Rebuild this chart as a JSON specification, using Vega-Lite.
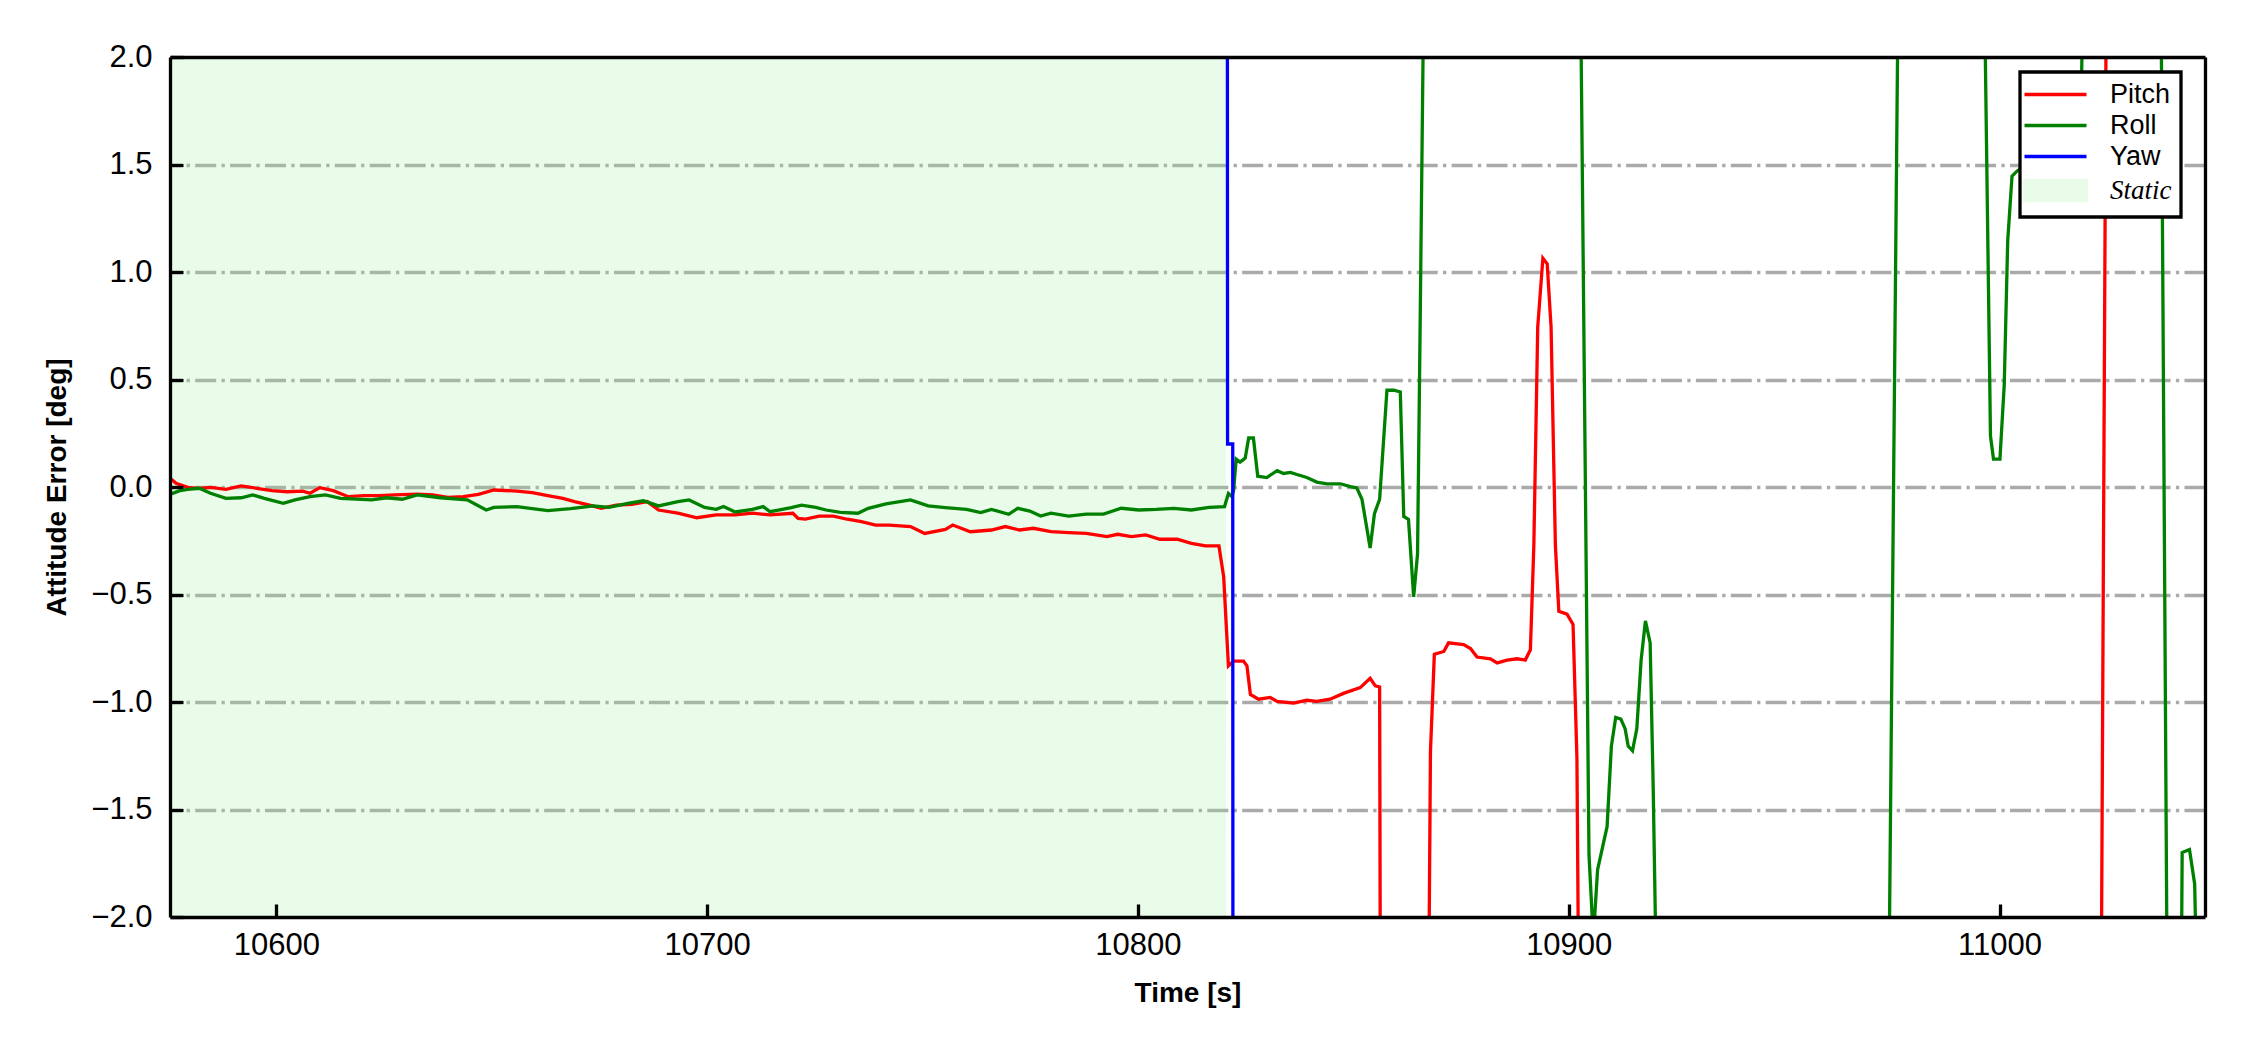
{
  "$schema": "https://vega.github.io/schema/vega-lite/v6.json",
  "width": 2035,
  "height": 860,
  "autosize": {"type": "none"},
  "padding": {"left": 170, "top": 57, "right": 45, "bottom": 133},
  "background": "white",
  "config": {"font": "Liberation Sans", "view": {"stroke": null}},
  "datasets": {
    "spans": [{"start": 10575.3, "end": 10820.5, "s": "Static"}],
    "lines": [
      {"s": "Pitch", "t": 10575.4, "v": 0.040},
      {"s": "Pitch", "t": 10576.7, "v": 0.017},
      {"s": "Pitch", "t": 10579.4, "v": -0.002},
      {"s": "Pitch", "t": 10582.1, "v": -0.006},
      {"s": "Pitch", "t": 10584.7, "v": -0.002},
      {"s": "Pitch", "t": 10588.3, "v": -0.011},
      {"s": "Pitch", "t": 10591.8, "v": 0.005},
      {"s": "Pitch", "t": 10595.4, "v": -0.006},
      {"s": "Pitch", "t": 10599.0, "v": -0.017},
      {"s": "Pitch", "t": 10602.5, "v": -0.022},
      {"s": "Pitch", "t": 10606.1, "v": -0.019},
      {"s": "Pitch", "t": 10607.8, "v": -0.029},
      {"s": "Pitch", "t": 10610.1, "v": -0.003},
      {"s": "Pitch", "t": 10613.2, "v": -0.017},
      {"s": "Pitch", "t": 10616.7, "v": -0.045},
      {"s": "Pitch", "t": 10620.3, "v": -0.040},
      {"s": "Pitch", "t": 10623.8, "v": -0.040},
      {"s": "Pitch", "t": 10627.4, "v": -0.037},
      {"s": "Pitch", "t": 10632.7, "v": -0.033},
      {"s": "Pitch", "t": 10636.3, "v": -0.037},
      {"s": "Pitch", "t": 10639.8, "v": -0.048},
      {"s": "Pitch", "t": 10643.4, "v": -0.045},
      {"s": "Pitch", "t": 10646.9, "v": -0.034},
      {"s": "Pitch", "t": 10650.5, "v": -0.014},
      {"s": "Pitch", "t": 10655.8, "v": -0.019},
      {"s": "Pitch", "t": 10659.4, "v": -0.026},
      {"s": "Pitch", "t": 10663.0, "v": -0.040},
      {"s": "Pitch", "t": 10666.5, "v": -0.053},
      {"s": "Pitch", "t": 10669.2, "v": -0.068},
      {"s": "Pitch", "t": 10672.7, "v": -0.084},
      {"s": "Pitch", "t": 10675.4, "v": -0.099},
      {"s": "Pitch", "t": 10678.9, "v": -0.084},
      {"s": "Pitch", "t": 10682.5, "v": -0.081},
      {"s": "Pitch", "t": 10686.1, "v": -0.068},
      {"s": "Pitch", "t": 10688.7, "v": -0.107},
      {"s": "Pitch", "t": 10693.2, "v": -0.122},
      {"s": "Pitch", "t": 10697.6, "v": -0.143},
      {"s": "Pitch", "t": 10702.1, "v": -0.130},
      {"s": "Pitch", "t": 10706.5, "v": -0.130},
      {"s": "Pitch", "t": 10710.5, "v": -0.122},
      {"s": "Pitch", "t": 10714.6, "v": -0.130},
      {"s": "Pitch", "t": 10719.9, "v": -0.122},
      {"s": "Pitch", "t": 10721.1, "v": -0.146},
      {"s": "Pitch", "t": 10722.8, "v": -0.149},
      {"s": "Pitch", "t": 10726.0, "v": -0.135},
      {"s": "Pitch", "t": 10729.3, "v": -0.135},
      {"s": "Pitch", "t": 10732.5, "v": -0.150},
      {"s": "Pitch", "t": 10735.8, "v": -0.161},
      {"s": "Pitch", "t": 10739.1, "v": -0.177},
      {"s": "Pitch", "t": 10742.3, "v": -0.177},
      {"s": "Pitch", "t": 10747.2, "v": -0.184},
      {"s": "Pitch", "t": 10750.5, "v": -0.216},
      {"s": "Pitch", "t": 10755.3, "v": -0.197},
      {"s": "Pitch", "t": 10757.0, "v": -0.177},
      {"s": "Pitch", "t": 10761.1, "v": -0.208},
      {"s": "Pitch", "t": 10766.0, "v": -0.200},
      {"s": "Pitch", "t": 10769.2, "v": -0.184},
      {"s": "Pitch", "t": 10772.5, "v": -0.200},
      {"s": "Pitch", "t": 10775.7, "v": -0.192},
      {"s": "Pitch", "t": 10779.8, "v": -0.208},
      {"s": "Pitch", "t": 10783.9, "v": -0.212},
      {"s": "Pitch", "t": 10788.0, "v": -0.216},
      {"s": "Pitch", "t": 10792.8, "v": -0.231},
      {"s": "Pitch", "t": 10795.3, "v": -0.220},
      {"s": "Pitch", "t": 10798.5, "v": -0.231},
      {"s": "Pitch", "t": 10801.8, "v": -0.223},
      {"s": "Pitch", "t": 10805.1, "v": -0.243},
      {"s": "Pitch", "t": 10809.1, "v": -0.243},
      {"s": "Pitch", "t": 10812.4, "v": -0.262},
      {"s": "Pitch", "t": 10815.7, "v": -0.274},
      {"s": "Pitch", "t": 10818.8, "v": -0.274},
      {"s": "Pitch", "t": 10819.9, "v": -0.418},
      {"s": "Pitch", "t": 10821.0, "v": -0.832},
      {"s": "Pitch", "t": 10822.2, "v": -0.810},
      {"s": "Pitch", "t": 10824.5, "v": -0.810},
      {"s": "Pitch", "t": 10825.3, "v": -0.832},
      {"s": "Pitch", "t": 10826.1, "v": -0.965},
      {"s": "Pitch", "t": 10828.0, "v": -0.987},
      {"s": "Pitch", "t": 10830.7, "v": -0.979},
      {"s": "Pitch", "t": 10832.3, "v": -0.997},
      {"s": "Pitch", "t": 10836.1, "v": -1.005},
      {"s": "Pitch", "t": 10839.2, "v": -0.992},
      {"s": "Pitch", "t": 10841.5, "v": -0.997},
      {"s": "Pitch", "t": 10844.6, "v": -0.987},
      {"s": "Pitch", "t": 10847.7, "v": -0.960},
      {"s": "Pitch", "t": 10851.6, "v": -0.933},
      {"s": "Pitch", "t": 10853.9, "v": -0.890},
      {"s": "Pitch", "t": 10855.1, "v": -0.925},
      {"s": "Pitch", "t": 10856.1, "v": -0.930},
      {"s": "Pitch", "t": 10856.3, "v": -2.6},
      {"s": "Pitch", "t": 10867.4, "v": -2.6},
      {"s": "Pitch", "t": 10867.9, "v": -1.232},
      {"s": "Pitch", "t": 10868.8, "v": -0.778},
      {"s": "Pitch", "t": 10871.0, "v": -0.765},
      {"s": "Pitch", "t": 10872.1, "v": -0.725},
      {"s": "Pitch", "t": 10875.6, "v": -0.733},
      {"s": "Pitch", "t": 10877.2, "v": -0.751},
      {"s": "Pitch", "t": 10878.7, "v": -0.791},
      {"s": "Pitch", "t": 10881.8, "v": -0.799},
      {"s": "Pitch", "t": 10883.4, "v": -0.818},
      {"s": "Pitch", "t": 10885.7, "v": -0.805},
      {"s": "Pitch", "t": 10888.0, "v": -0.799},
      {"s": "Pitch", "t": 10889.9, "v": -0.805},
      {"s": "Pitch", "t": 10891.1, "v": -0.757},
      {"s": "Pitch", "t": 10891.9, "v": -0.271},
      {"s": "Pitch", "t": 10892.8, "v": 0.744},
      {"s": "Pitch", "t": 10894.0, "v": 1.064},
      {"s": "Pitch", "t": 10895.0, "v": 1.038},
      {"s": "Pitch", "t": 10895.9, "v": 0.744},
      {"s": "Pitch", "t": 10896.9, "v": -0.271},
      {"s": "Pitch", "t": 10897.7, "v": -0.578},
      {"s": "Pitch", "t": 10899.6, "v": -0.591},
      {"s": "Pitch", "t": 10901.0, "v": -0.639},
      {"s": "Pitch", "t": 10901.9, "v": -1.259},
      {"s": "Pitch", "t": 10902.4, "v": -2.6},
      {"s": "Pitch", "t": 11023.55, "v": -2.6},
      {"s": "Pitch", "t": 11024.85, "v": 2.6},
      {"s": "Pitch", "t": 11047.7, "v": 2.6},

      {"s": "Roll", "t": 10575.4, "v": -0.033},
      {"s": "Roll", "t": 10577.6, "v": -0.017},
      {"s": "Roll", "t": 10579.4, "v": -0.011},
      {"s": "Roll", "t": 10582.1, "v": -0.006},
      {"s": "Roll", "t": 10584.7, "v": -0.029},
      {"s": "Roll", "t": 10588.3, "v": -0.053},
      {"s": "Roll", "t": 10591.8, "v": -0.050},
      {"s": "Roll", "t": 10594.5, "v": -0.037},
      {"s": "Roll", "t": 10597.2, "v": -0.053},
      {"s": "Roll", "t": 10601.6, "v": -0.076},
      {"s": "Roll", "t": 10604.3, "v": -0.060},
      {"s": "Roll", "t": 10607.8, "v": -0.045},
      {"s": "Roll", "t": 10611.4, "v": -0.037},
      {"s": "Roll", "t": 10614.9, "v": -0.053},
      {"s": "Roll", "t": 10618.5, "v": -0.056},
      {"s": "Roll", "t": 10622.1, "v": -0.060},
      {"s": "Roll", "t": 10625.6, "v": -0.050},
      {"s": "Roll", "t": 10629.2, "v": -0.057},
      {"s": "Roll", "t": 10632.7, "v": -0.037},
      {"s": "Roll", "t": 10638.1, "v": -0.050},
      {"s": "Roll", "t": 10644.3, "v": -0.060},
      {"s": "Roll", "t": 10648.7, "v": -0.107},
      {"s": "Roll", "t": 10650.5, "v": -0.095},
      {"s": "Roll", "t": 10655.8, "v": -0.091},
      {"s": "Roll", "t": 10663.0, "v": -0.110},
      {"s": "Roll", "t": 10668.3, "v": -0.101},
      {"s": "Roll", "t": 10673.6, "v": -0.088},
      {"s": "Roll", "t": 10677.2, "v": -0.095},
      {"s": "Roll", "t": 10681.6, "v": -0.076},
      {"s": "Roll", "t": 10685.2, "v": -0.064},
      {"s": "Roll", "t": 10688.7, "v": -0.088},
      {"s": "Roll", "t": 10693.2, "v": -0.068},
      {"s": "Roll", "t": 10695.8, "v": -0.060},
      {"s": "Roll", "t": 10699.4, "v": -0.095},
      {"s": "Roll", "t": 10702.1, "v": -0.104},
      {"s": "Roll", "t": 10703.8, "v": -0.091},
      {"s": "Roll", "t": 10706.5, "v": -0.116},
      {"s": "Roll", "t": 10710.5, "v": -0.104},
      {"s": "Roll", "t": 10713.0, "v": -0.091},
      {"s": "Roll", "t": 10714.6, "v": -0.115},
      {"s": "Roll", "t": 10719.5, "v": -0.096},
      {"s": "Roll", "t": 10721.9, "v": -0.084},
      {"s": "Roll", "t": 10725.2, "v": -0.095},
      {"s": "Roll", "t": 10727.6, "v": -0.107},
      {"s": "Roll", "t": 10730.9, "v": -0.118},
      {"s": "Roll", "t": 10735.0, "v": -0.122},
      {"s": "Roll", "t": 10737.4, "v": -0.099},
      {"s": "Roll", "t": 10741.5, "v": -0.079},
      {"s": "Roll", "t": 10747.2, "v": -0.060},
      {"s": "Roll", "t": 10751.3, "v": -0.088},
      {"s": "Roll", "t": 10755.3, "v": -0.096},
      {"s": "Roll", "t": 10760.2, "v": -0.104},
      {"s": "Roll", "t": 10763.5, "v": -0.119},
      {"s": "Roll", "t": 10766.0, "v": -0.104},
      {"s": "Roll", "t": 10770.0, "v": -0.127},
      {"s": "Roll", "t": 10772.1, "v": -0.099},
      {"s": "Roll", "t": 10774.9, "v": -0.112},
      {"s": "Roll", "t": 10777.4, "v": -0.135},
      {"s": "Roll", "t": 10779.8, "v": -0.122},
      {"s": "Roll", "t": 10783.9, "v": -0.135},
      {"s": "Roll", "t": 10788.0, "v": -0.126},
      {"s": "Roll", "t": 10792.0, "v": -0.126},
      {"s": "Roll", "t": 10796.1, "v": -0.099},
      {"s": "Roll", "t": 10800.2, "v": -0.107},
      {"s": "Roll", "t": 10804.2, "v": -0.104},
      {"s": "Roll", "t": 10808.3, "v": -0.099},
      {"s": "Roll", "t": 10812.4, "v": -0.107},
      {"s": "Roll", "t": 10816.5, "v": -0.095},
      {"s": "Roll", "t": 10820.1, "v": -0.091},
      {"s": "Roll", "t": 10821.0, "v": -0.030},
      {"s": "Roll", "t": 10821.8, "v": -0.044},
      {"s": "Roll", "t": 10822.2, "v": -0.017},
      {"s": "Roll", "t": 10822.8, "v": 0.130},
      {"s": "Roll", "t": 10823.7, "v": 0.116},
      {"s": "Roll", "t": 10824.9, "v": 0.135},
      {"s": "Roll", "t": 10825.7, "v": 0.228},
      {"s": "Roll", "t": 10826.8, "v": 0.228},
      {"s": "Roll", "t": 10827.8, "v": 0.050},
      {"s": "Roll", "t": 10829.9, "v": 0.044},
      {"s": "Roll", "t": 10832.3, "v": 0.076},
      {"s": "Roll", "t": 10833.8, "v": 0.063},
      {"s": "Roll", "t": 10835.4, "v": 0.068},
      {"s": "Roll", "t": 10836.9, "v": 0.058},
      {"s": "Roll", "t": 10839.2, "v": 0.044},
      {"s": "Roll", "t": 10841.5, "v": 0.023},
      {"s": "Roll", "t": 10843.9, "v": 0.015},
      {"s": "Roll", "t": 10847.0, "v": 0.015},
      {"s": "Roll", "t": 10849.3, "v": 0.002},
      {"s": "Roll", "t": 10850.8, "v": -0.004},
      {"s": "Roll", "t": 10852.0, "v": -0.057},
      {"s": "Roll", "t": 10853.9, "v": -0.284},
      {"s": "Roll", "t": 10854.9, "v": -0.124},
      {"s": "Roll", "t": 10856.1, "v": -0.057},
      {"s": "Roll", "t": 10857.8, "v": 0.450},
      {"s": "Roll", "t": 10859.4, "v": 0.450},
      {"s": "Roll", "t": 10860.9, "v": 0.442},
      {"s": "Roll", "t": 10861.7, "v": -0.137},
      {"s": "Roll", "t": 10862.8, "v": -0.151},
      {"s": "Roll", "t": 10864.0, "v": -0.511},
      {"s": "Roll", "t": 10864.9, "v": -0.311},
      {"s": "Roll", "t": 10865.5, "v": 0.744},
      {"s": "Roll", "t": 10866.5, "v": 2.6},
      {"s": "Roll", "t": 10902.6, "v": 2.6},
      {"s": "Roll", "t": 10904.7, "v": -1.71},
      {"s": "Roll", "t": 10905.7, "v": -2.1},
      {"s": "Roll", "t": 10906.7, "v": -1.78},
      {"s": "Roll", "t": 10908.9, "v": -1.58},
      {"s": "Roll", "t": 10909.9, "v": -1.205},
      {"s": "Roll", "t": 10910.9, "v": -1.072},
      {"s": "Roll", "t": 10912.1, "v": -1.08},
      {"s": "Roll", "t": 10913.1, "v": -1.125},
      {"s": "Roll", "t": 10913.8, "v": -1.205},
      {"s": "Roll", "t": 10914.8, "v": -1.227},
      {"s": "Roll", "t": 10915.8, "v": -1.125},
      {"s": "Roll", "t": 10916.8, "v": -0.805},
      {"s": "Roll", "t": 10917.8, "v": -0.623},
      {"s": "Roll", "t": 10918.9, "v": -0.725},
      {"s": "Roll", "t": 10919.6, "v": -1.392},
      {"s": "Roll", "t": 10920.6, "v": -2.6},
      {"s": "Roll", "t": 10974.2, "v": -2.6},
      {"s": "Roll", "t": 10976.6, "v": 2.6},
      {"s": "Roll", "t": 10996.3, "v": 2.6},
      {"s": "Roll", "t": 10997.9, "v": 0.237},
      {"s": "Roll", "t": 10998.6, "v": 0.130},
      {"s": "Roll", "t": 11000.1, "v": 0.130},
      {"s": "Roll", "t": 11001.1, "v": 0.477},
      {"s": "Roll", "t": 11001.9, "v": 1.144},
      {"s": "Roll", "t": 11002.9, "v": 1.446},
      {"s": "Roll", "t": 11004.1, "v": 1.470},
      {"s": "Roll", "t": 11010.0, "v": 1.55},
      {"s": "Roll", "t": 11018.8, "v": 1.65},
      {"s": "Roll", "t": 11019.7, "v": 2.6},
      {"s": "Roll", "t": 11037.4, "v": 2.6},
      {"s": "Roll", "t": 11039.0, "v": -2.6},
      {"s": "Roll", "t": 11042.1, "v": -2.6},
      {"s": "Roll", "t": 11042.4, "v": -1.70},
      {"s": "Roll", "t": 11044.1, "v": -1.686},
      {"s": "Roll", "t": 11045.3, "v": -1.846},
      {"s": "Roll", "t": 11046.1, "v": -2.6},
      {"s": "Roll", "t": 11047.7, "v": -2.6},

      {"s": "Yaw", "t": 10575.3, "v": 2.6},
      {"s": "Yaw", "t": 10820.75, "v": 2.6},
      {"s": "Yaw", "t": 10820.8, "v": 0.2},
      {"s": "Yaw", "t": 10822.0, "v": 0.2},
      {"s": "Yaw", "t": 10822.05, "v": -2.6},
      {"s": "Yaw", "t": 11047.7, "v": -2.6}
    ]
  },
  "layer": [
    {
      "data": {"name": "spans"},
      "mark": {"type": "rect", "opacity": 0.2, "color": "#90ee90"},
      "encoding": {
        "x": {"field": "start", "type": "quantitative",
              "scale": {"domain": [10575.3, 11047.7], "nice": false, "zero": false},
              "axis": {"orient": "top", "labels": false, "ticks": false, "grid": false, "title": null,
                       "domain": true, "domainColor": "black", "domainWidth": 3.3, "zindex": 1}},
        "x2": {"field": "end"},
        "y": {"datum": -2, "type": "quantitative",
              "scale": {"domain": [-2, 2], "nice": false, "zero": false},
              "axis": {"orient": "right", "labels": false, "ticks": false, "title": null,
                       "domain": true, "domainColor": "black", "domainWidth": 3.3,
                       "grid": true, "values": [-1.5, -1, -0.5, 0, 0.5, 1, 1.5],
                       "gridColor": "#aaaaaa", "gridWidth": 3.3, "gridDash": [21, 5.3, 3.3, 5.3], "zindex": 0}},
        "y2": {"datum": 2}
      }
    },
    {
      "data": {"name": "lines"},
      "mark": {"type": "line", "strokeWidth": 3.3, "clip": true},
      "encoding": {
        "x": {"field": "t", "type": "quantitative",
              "scale": {"domain": [10575.3, 11047.7], "nice": false, "zero": false},
              "axis": {"orient": "bottom", "values": [10600, 10700, 10800, 10900, 11000], "format": "d",
                       "grid": false, "domain": true, "domainColor": "black", "domainWidth": 3.3,
                       "ticks": true, "tickSize": -13, "tickWidth": 3.3, "tickColor": "black",
                       "labelFont": "Liberation Sans", "labelFontSize": 31, "labelColor": "black", "labelPadding": 26.5,
                       "title": "Time [s]", "titleFont": "Liberation Sans", "titleFontSize": 28, "titleFontWeight": "bold", "titleColor": "black",
                       "titleX": 1017.5, "titleY": 84, "titleAlign": "center", "titleBaseline": "alphabetic", "zindex": 1}},
        "y": {"field": "v", "type": "quantitative",
              "scale": {"domain": [-2, 2], "nice": false, "zero": false},
              "axis": {"orient": "left", "values": [-2, -1.5, -1, -0.5, 0, 0.5, 1, 1.5, 2], "format": ".1f",
                       "grid": false, "domain": true, "domainColor": "black", "domainWidth": 3.3,
                       "ticks": true, "tickSize": -13, "tickWidth": 3.3, "tickColor": "black",
                       "labelFont": "Liberation Sans", "labelFontSize": 31, "labelColor": "black", "labelPadding": 31,
                       "title": "Attitude Error [deg]", "titleFont": "Liberation Sans", "titleFontSize": 28, "titleFontWeight": "bold", "titleColor": "black",
                       "titleX": -105, "titleY": 430, "titleAngle": -90, "titleAlign": "center", "titleBaseline": "alphabetic", "zindex": 1}},
        "color": {"field": "s", "type": "nominal",
                  "scale": {"domain": ["Pitch", "Roll", "Yaw", "Static"], "range": ["#ff0000", "#008000", "#0000ff", "#e9fce9"]},
                  "legend": {
                    "orient": "none", "legendX": 1850, "legendY": 15, "title": null,
                    "padding": 9, "rowPadding": 3,
                    "symbolSize": 400, "symbolStrokeWidth": 3.3, "symbolOffset": 13,
                    "labelOffset": 41, "labelAlign": "left", "labelFont": "Liberation Sans", "labelFontSize": 27, "labelColor": "black",
                    "fillColor": "white", "strokeColor": "black",
                    "encode": {
                      "legend": {"update": {"strokeWidth": {"value": 3.3}}},
                      "symbols": {"update": {
                        "shape": {"signal": "datum.value === 'Static' ? 'M-3.1,-1H3.1V1H-3.1Z' : 'M-3.1,0H3.1'"},
                        "fill": {"signal": "datum.value === 'Static' ? '#e9fce9' : 'transparent'"},
                        "stroke": {"signal": "datum.value === 'Pitch' ? '#ff0000' : datum.value === 'Roll' ? '#008000' : datum.value === 'Yaw' ? '#0000ff' : 'transparent'"},
                        "strokeWidth": {"value": 3.3},
                        "opacity": {"value": 1}
                      }},
                      "labels": {"update": {
                        "font": {"signal": "datum.value === 'Static' ? 'Liberation Serif' : 'Liberation Sans'"},
                        "fontStyle": {"signal": "datum.value === 'Static' ? 'italic' : 'normal'"}
                      }}
                    }
                  }}
      }
    }
  ],
  "resolve": {"axis": {"x": "independent", "y": "independent"}}
}
